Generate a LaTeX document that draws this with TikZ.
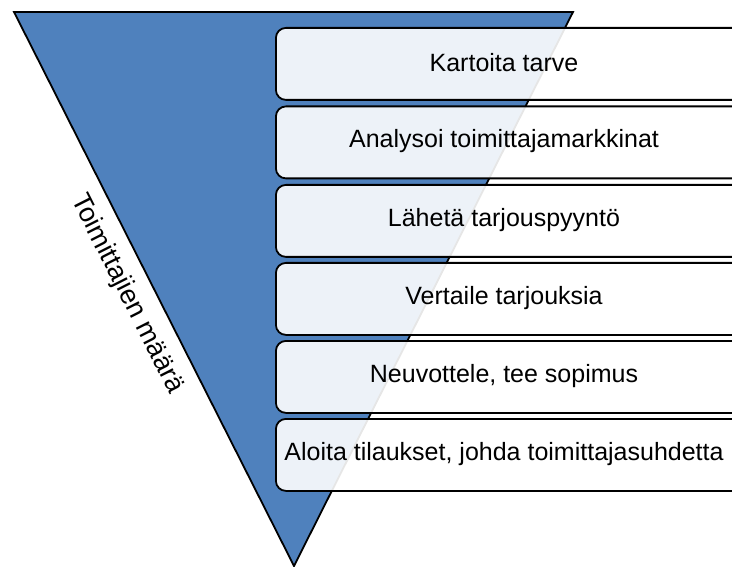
\documentclass[tikz,border=0pt]{standalone}
\usepackage{fontspec}
\setmainfont{Liberation Sans}
\definecolor{funnelblue}{HTML}{4F81BD}
\begin{document}
\begin{tikzpicture}[x=1pt,y=-1pt,
  stepbox/.style={draw=black, line width=1.8pt, fill=white, fill opacity=0.9,
    rounded corners=10pt, minimum width=490pt, minimum height=72pt, anchor=north west,
    inner sep=0pt},
  steptext/.style={font=\fontsize{25}{30}\selectfont, inner sep=0pt},
  funnel/.style={draw=black, line width=1.8pt, fill=funnelblue, line join=miter}]
\useasboundingbox (0,0) rectangle (732,567);
\coordinate (tl) at (14,12);
\coordinate (tr) at (573,12);
\coordinate (apex) at (294,566);
\draw[funnel] (tl) -- (tr) -- (apex) -- cycle;
\node[rotate=-63.2, font=\fontsize{27}{32}\selectfont] (lbl) at (127,294) {Toimittajien määrä};
\foreach \i/\y/\t in {1/27/Kartoita tarve, 2/105.5/Analysoi toimittajamarkkinat,
  3/184/Lähetä tarjouspyyntö, 4/262/Vertaile tarjouksia,
  5/340/Neuvottele{,} tee sopimus, 6/418/{Aloita tilaukset, johda toimittajasuhdetta}}{
  \node[stepbox] (s\i) at (275,\y) {};
  \node[steptext] (t\i) at (504,\y+36) {\t};
}
\end{tikzpicture}
\end{document}
